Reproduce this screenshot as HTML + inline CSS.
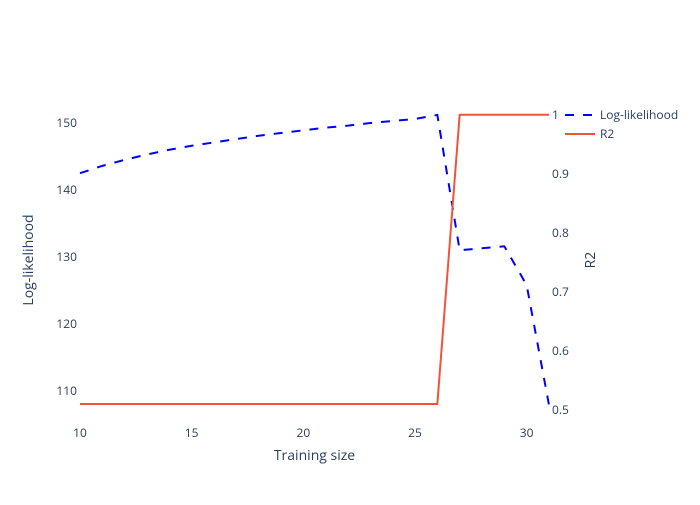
<!DOCTYPE html>
<html><head><meta charset="utf-8"><style>
body{margin:0;background:#fff}
svg{font-family:"Open Sans","Liberation Sans",sans-serif}
</style></head><body>
<svg id="c" width="700" height="500">
<rect width="700" height="500" fill="#fff"/>
<g id="g"></g>
</svg>
<script>
const xs=[10,11,12,13,14,15,16,17,18,19,20,21,22,23,24,25,26,27,28,29,30,31];
const loglik=[142.5,143.6,144.5,145.3,146.0,146.6,147.1,147.6,148.1,148.5,148.9,149.3,149.6,150.0,150.3,150.6,151.2,131.0,131.3,131.6,125.8,107.9];
const r2=[0.51,0.51,0.51,0.51,0.51,0.51,0.51,0.51,0.51,0.51,0.51,0.51,0.51,0.51,0.51,0.51,0.51,1,1,1,1,1];
const xTicks=[10,15,20,25,30];
const yTicks=[110,120,130,140,150];
const y2Ticks=[0.5,0.6,0.7,0.8,0.9,1];
const L=80,R=549,T=100,B=420;
const X=v=>L+(v-10)/(31-10)*(R-L);
const Y=v=>B-(v-105.67)/(153.43-105.67)*(B-T);
const Y2=v=>B-(v-0.483)/(1.025-0.483)*(B-T);
const g=document.getElementById('g');const NS='http://www.w3.org/2000/svg';
function mk(t,a,txt){const e=document.createElementNS(NS,t);for(const k in a)e.setAttribute(k,a[k]);if(txt!==undefined)e.textContent=txt;g.appendChild(e);return e;}
const col='#2a3f5f';
xTicks.forEach(v=>{const e=mk('text',{x:X(v),y:437,'text-anchor':'middle','font-size':12,fill:col},v);

});
yTicks.forEach(v=>{const e=mk('text',{x:77,y:Y(v)+4,'text-anchor':'end','font-size':12,fill:col},v);

});
y2Ticks.forEach(v=>{const e=mk('text',{x:552,y:Y2(v)+4,'text-anchor':'start','font-size':12,fill:col},v);

});
let e=mk('text',{x:314.5,y:460,'text-anchor':'middle','font-size':14,fill:col},'Training size');

e=mk('text',{x:0,y:0,transform:'translate(33,260) rotate(-90)','text-anchor':'middle','font-size':14,fill:col},'Log-likelihood');

e=mk('text',{x:0,y:0,transform:'translate(595,260) rotate(-90)','text-anchor':'middle','font-size':14,fill:col},'R2');

e=mk('path',{d:'M'+xs.map((x,i)=>X(x)+','+Y(loglik[i])).join('L'),fill:'none',stroke:'#0000ff','stroke-width':2,'stroke-dasharray':'9,9'});

e=mk('path',{d:'M'+xs.map((x,i)=>X(x)+','+Y2(r2[i])).join('L'),fill:'none',stroke:'#ef553b','stroke-width':2});

e=mk('line',{x1:565,y1:115,x2:595,y2:115,stroke:'#0000ff','stroke-width':2,'stroke-dasharray':'9,9'});

e=mk('text',{x:600,y:119,'font-size':12,fill:col},'Log-likelihood');

e=mk('line',{x1:565,y1:134,x2:595,y2:134,stroke:'#ef553b','stroke-width':2});

e=mk('text',{x:600,y:138,'font-size':12,fill:col},'R2');

</script>
</body></html>
